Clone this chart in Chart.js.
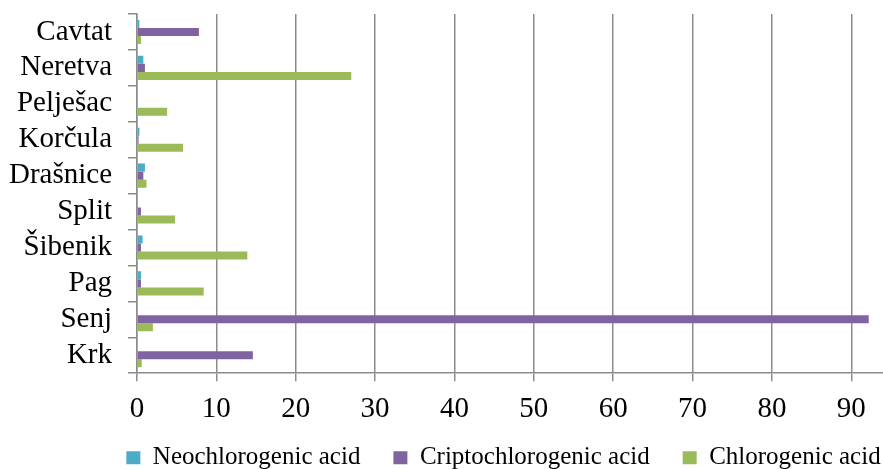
<!DOCTYPE html>
<html>
<head>
<meta charset="utf-8">
<script src="https://cdn.jsdelivr.net/npm/chart.js@4"></script>
<style>
  body { margin: 0; background: #fff; }
  #wrap { width: 883px; height: 469px; }
</style>
</head>
<body>
<div id="wrap"><canvas id="grafico"></canvas></div>
<script>
  // Dados
  var locais = ['Cavtat', 'Neretva', 'Pelješac', 'Korčula', 'Drašnice', 'Split', 'Šibenik', 'Pag', 'Senj', 'Krk'];
  var neoclorogenico = [0.3, 0.8, 0.1, 0.3, 1.0, 0.1, 0.7, 0.5, 0, 0];
  var criptoclorogenico = [7.8, 1.0, 0, 0.2, 0.8, 0.5, 0.5, 0.5, 92.2, 14.6];
  var clorogenico = [0.5, 27.0, 3.8, 5.8, 1.2, 4.8, 13.9, 8.4, 2.0, 0.6];
  var xTicks = [0, 10, 20, 30, 40, 50, 60, 70, 80, 90];

  // sobe a legenda para perto dos números do eixo e empurra um pouco para a direita
  var moveLegenda = {
    id: 'moveLegenda',
    afterLayout: function (chart) {
      var lg = chart.legend;
      var h = lg.bottom - lg.top;
      lg.top = chart.chartArea.bottom + 39;
      lg.bottom = lg.top + h;
      lg.left += 58;
      lg.right += 58;
    }
  };

  var ctx = document.getElementById('grafico').getContext('2d');
  var grafico = new Chart(ctx, {
    type: 'bar',
    data: {
      labels: locais,
      datasets: [{
        label: 'Neochlorogenic acid',
        data: neoclorogenico,
        backgroundColor: '#4bacc6'
      }, {
        label: 'Criptochlorogenic acid',
        data: criptoclorogenico,
        backgroundColor: '#8064a2'
      }, {
        label: 'Chlorogenic acid',
        data: clorogenico,
        backgroundColor: '#9bbb59'
      }]
    },
    plugins: [moveLegenda],
    options: {
      indexAxis: 'y',
      responsive: true,
      maintainAspectRatio: false,
      animation: false,
      layout: { padding: { top: 14, right: 0, left: 8, bottom: -37 } },
      datasets: { bar: { categoryPercentage: 0.67, barPercentage: 1 } },
      scales: {
        x: {
          min: 0,
          max: 94,
          afterBuildTicks: function (axis) {
            axis.ticks = xTicks.map(function (v) { return { value: v }; });
          },
          afterFit: function (axis) {
            axis.paddingLeft = 0;
            axis.paddingRight = 0;
          },
          grid: { color: '#8c8c8c', lineWidth: 1.5, tickLength: 8 },
          border: { color: '#8c8c8c', width: 1.5 },
          ticks: {
            color: '#000',
            padding: 11,
            font: { family: 'Liberation Serif', size: 29 }
          }
        },
        y: {
          afterFit: function (axis) {
            axis.width = 129;
            axis.paddingTop = 0;
            axis.paddingBottom = 0;
          },
          grid: { offset: true, drawOnChartArea: false, color: '#8c8c8c', lineWidth: 1.5, tickLength: 9 },
          border: { color: '#8c8c8c', width: 1.5 },
          ticks: {
            autoSkip: false,
            color: '#000',
            padding: 16,
            font: { family: 'Liberation Serif', size: 29 }
          }
        }
      },
      plugins: {
        legend: {
          position: 'bottom',
          labels: {
            color: '#000',
            boxWidth: 14,
            boxHeight: 13,
            padding: 33,
            font: { family: 'Liberation Serif', size: 25 }
          }
        },
        tooltip: { enabled: false }
      }
    }
  });
</script>
</body>
</html>
